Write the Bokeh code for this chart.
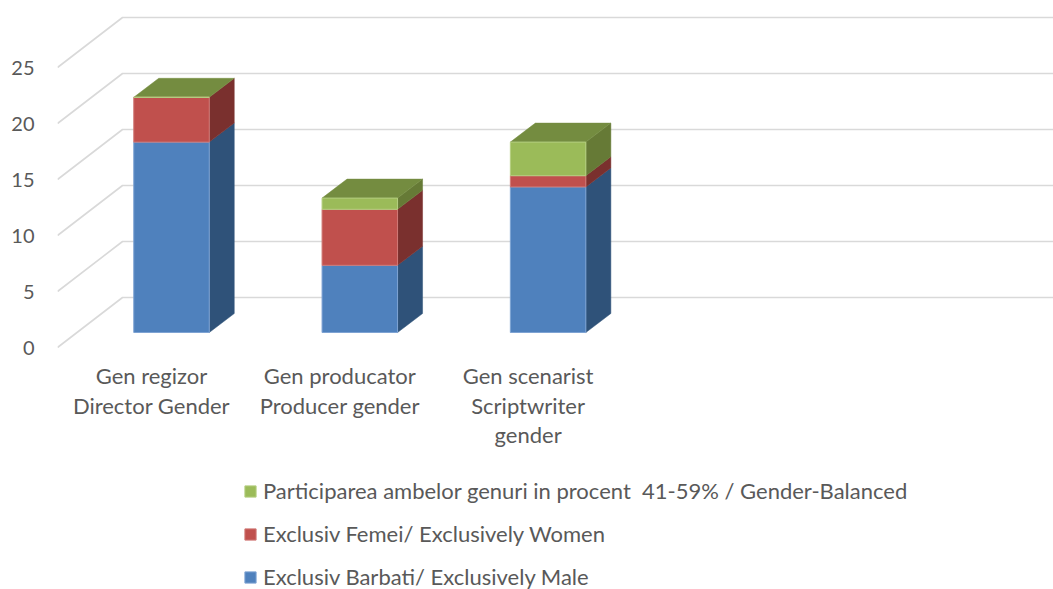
from bokeh.plotting import figure
from bokeh.models import ColumnDataSource, Legend, LegendItem, FixedTicker, Range1d
from bokeh.core.properties import value
from bokeh.embed import file_html
from bokeh.resources import INLINE

# ---- data
categories = ["Gen regizor\nDirector Gender", "Gen producator\nProducer gender", "Gen scenarist\nScriptwriter\ngender"]
male = [17, 6, 13]
women = [4, 5, 1]
balanced = [0, 1, 3]
series_names = ["Exclusiv Barbati/ Exclusively Male", "Exclusiv Femei/ Exclusively Women",
                "Participarea ambelor genuri in procent  41-59% / Gender-Balanced"]
y_ticks = [0, 5, 10, 15, 20, 25]

# ---- layout constants (pixels in the picture)
PX_Y = 11.2          # pixels per value unit
PX_X = 188.3         # pixels per category
FRAME_L, FRAME_R, FRAME_T, FRAME_B = 57, 1053, 0, 589
CAT0_X, ZERO_Y = 171, 347
def xu(px): return px / PX_X
def yu(px): return px / PX_Y

FONT = "Lato"
TEXT = "#595959"
GRID = "#d9d9d9"
FRONT = ["#4f81bd", "#c0504d", "#9bbb59"]
EDGE = ["#7ea3d3", "#d07a77", "#b5cf80"]
SIDE = ["#2f5279", "#7a302e", "#667a36"]
TOP = "#748c40"

bar_w = xu(75.5)
lift = yu(15)
dx, dy = xu(25), yu(19)
wall_dx, wall_dy = xu(65), yu(50)
x0 = (FRAME_L - CAT0_X) / PX_X
x1 = (FRAME_R - CAT0_X) / PX_X

p = figure(width=FRAME_R, height=FRAME_B, output_backend="svg", toolbar_location=None,
           x_range=Range1d(x0, x1),
           y_range=Range1d((ZERO_Y - FRAME_B) / PX_Y, (ZERO_Y - FRAME_T) / PX_Y),
           min_border_left=FRAME_L, min_border_right=0, min_border_top=0, min_border_bottom=0,
           x_axis_location=None, outline_line_color=None)
p.xgrid.visible = False
p.ygrid.visible = False
p.background_fill_color = "white"

ax = p.yaxis[0]
ax.ticker = FixedTicker(ticks=y_ticks)
ax.axis_line_color = None
ax.major_tick_line_color = None
ax.minor_tick_line_color = None
ax.major_tick_in = 0
ax.major_tick_out = 0
ax.major_label_standoff = 23
ax.major_label_text_font = FONT
ax.major_label_text_font_size = "20px"
ax.major_label_text_color = TEXT

p.multi_line(xs=[[x0, x0 + wall_dx, x1] for _ in y_ticks],
             ys=[[t, t + wall_dy, t + wall_dy] for t in y_ticks],
             line_color=GRID, line_width=1.6)

xs_c = list(range(len(categories)))
stacks = [male, women, balanced]
bottoms = [0] * len(categories)
front_rs = []
layers = []
for vals in stacks:
    tops = [b + v for b, v in zip(bottoms, vals)]
    layers.append((list(bottoms), tops))
    bottoms = tops

for k, (bs, ts) in enumerate(layers):
    xs, ys = [], []
    for i in xs_c:
        if ts[i] == bs[i]:
            continue
        r = i + bar_w / 2
        b, t = bs[i] + lift, ts[i] + lift
        xs.append([r, r + dx, r + dx, r])
        ys.append([b, b + dy, t + dy, t])
    p.patches(xs, ys, fill_color=SIDE[k], line_color=SIDE[k], line_width=0.5)

tot = layers[-1][1]
p.patches([[i - bar_w / 2, i + bar_w / 2, i + bar_w / 2 + dx, i - bar_w / 2 + dx] for i in xs_c],
          [[tot[i] + lift, tot[i] + lift, tot[i] + lift + dy, tot[i] + lift + dy] for i in xs_c],
          fill_color=TOP, line_color=TOP, line_width=0.5)

for k, (bs, ts) in enumerate(layers):
    src = ColumnDataSource(dict(x=xs_c, bottom=[b + lift for b in bs], top=[t + lift for t in ts]))
    r = p.vbar(x="x", bottom="bottom", top="top", width=bar_w, source=src,
               fill_color=FRONT[k], line_color=EDGE[k], line_width=1)
    front_rs.append(r)

lab_x, lab_t, lab_off = [], [], []
for i, c in enumerate(categories):
    for j, line in enumerate(c.split("\n")):
        lab_x.append(i - xu(20))
        lab_t.append(line)
        lab_off.append(28 + j * 29.5)
p.text(x=lab_x, y=[0] * len(lab_x), text=lab_t, y_offset=lab_off, text_align="center",
       text_baseline="middle", text_font=value(FONT), text_font_size="22px", text_color=TEXT)

items = [LegendItem(label=series_names[k], renderers=[front_rs[k]]) for k in (2, 1, 0)]
leg = Legend(items=items, location=(186, -1), orientation="vertical", padding=0, margin=0,
             spacing=16, glyph_width=14, glyph_height=14, label_height=14, label_standoff=6,
             label_text_font=FONT, label_text_font_size="22px", label_text_color=TEXT,
             background_fill_alpha=0, border_line_color=None)
p.add_layout(leg)

open("out.html", "w").write(file_html(p, INLINE))
